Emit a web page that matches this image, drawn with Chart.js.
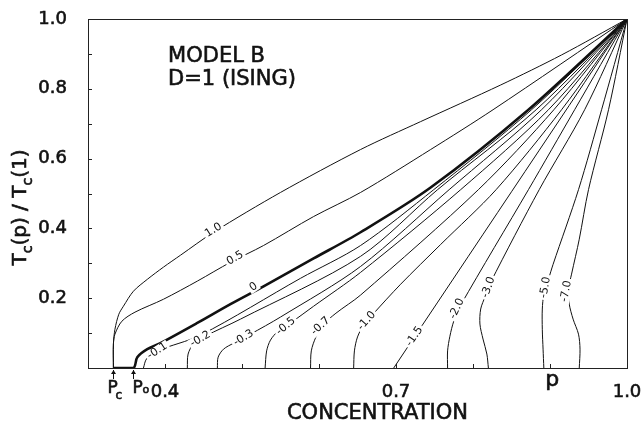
<!DOCTYPE html>
<html>
<head>
<meta charset="utf-8">
<script src="https://cdn.jsdelivr.net/npm/chart.js@4/dist/chart.umd.min.js"></script>
<style>
  html, body { margin: 0; padding: 0; background: #fff; }
  #wrap { width: 641px; height: 424px; }
</style>
</head>
<body>
<div id="wrap"><canvas id="chart" width="641" height="424"></canvas></div>
<script>
// curve names (coupling value written on each curve)
const curveNames = ['1.0', '0.5', '0', '-0.1', '-0.2', '-0.3', '-0.5', '-0.7', '-1.0', '-1.5', '-2.0', '-3.0', '-5.0', '-7.0'];

// concentration p  /  Tc(p)/Tc(1)  for every curve
const p_10  = [0.333, 0.333, 0.335, 0.340, 0.346, 0.359, 0.377, 0.398, 0.420, 0.463, 0.550, 0.654, 0.732, 0.836, 0.915, 1.0];
const t_10  = [0, 0.069, 0.111, 0.154, 0.177, 0.220, 0.254, 0.289, 0.323, 0.389, 0.503, 0.626, 0.706, 0.811, 0.897, 1.0];
const p_05  = [0.333, 0.333, 0.335, 0.344, 0.361, 0.398, 0.442, 0.485, 0.528, 0.593, 0.654, 0.745, 0.826, 1.0];
const t_05  = [0, 0.069, 0.097, 0.134, 0.160, 0.197, 0.249, 0.303, 0.351, 0.434, 0.503, 0.626, 0.740, 1.0];
const p_0   = [0.333, 0.359, 0.364, 0.377, 0.394, 0.442, 0.485, 0.528, 0.593, 0.654, 0.745, 0.872, 1.0];
const t_0   = [0, 0, 0.031, 0.054, 0.071, 0.129, 0.183, 0.234, 0.314, 0.389, 0.517, 0.740, 1.0];
const p_m01 = [0.372, 0.376, 0.390, 0.446, 0.576, 0.654, 0.749, 0.876, 1.0];
const t_m01 = [0, 0.026, 0.049, 0.094, 0.257, 0.351, 0.511, 0.740, 1.0];
const p_m02 = [0.429, 0.430, 0.437, 0.452, 0.498, 0.654, 0.754, 0.882, 1.0];
const t_m02 = [0, 0.040, 0.069, 0.091, 0.140, 0.320, 0.511, 0.740, 1.0];
const p_m03 = [0.468, 0.469, 0.476, 0.489, 0.511, 0.550, 0.654, 0.769, 0.889, 1.0];
const t_m03 = [0, 0.031, 0.054, 0.071, 0.097, 0.146, 0.291, 0.511, 0.740, 1.0];
const p_m05 = [0.530, 0.532, 0.537, 0.547, 0.563, 0.593, 0.654, 0.784, 0.898, 1.0];
const t_m05 = [0, 0.049, 0.080, 0.106, 0.129, 0.177, 0.274, 0.511, 0.740, 1.0];
const p_m07 = [0.589, 0.590, 0.596, 0.605, 0.622, 0.654, 0.807, 0.905, 1.0];
const t_m07 = [0, 0.049, 0.089, 0.123, 0.157, 0.209, 0.511, 0.740, 1.0];
const p_m10 = [0.645, 0.646, 0.650, 0.658, 0.670, 0.706, 0.758, 0.830, 0.915, 1.0];
const t_m10 = [0, 0.049, 0.089, 0.123, 0.154, 0.240, 0.354, 0.511, 0.740, 1.0];
const p_m15 = [0.697, 0.850, 1.0];
const t_m15 = [0, 0.505, 1.0];
const p_m20 = [0.767, 0.767, 0.770, 0.775, 0.784, 0.872, 0.932, 1.0];
const t_m20 = [0, 0.049, 0.091, 0.134, 0.180, 0.511, 0.740, 1.0];
const p_m30 = [0.820, 0.818, 0.813, 0.809, 0.810, 0.816, 0.823, 0.886, 0.945, 1.0];
const t_m30 = [0, 0.040, 0.083, 0.126, 0.169, 0.206, 0.246, 0.511, 0.740, 1.0];
const p_m50 = [0.892, 0.891, 0.890, 0.890, 0.892, 0.898, 0.904, 0.937, 0.967, 1.0];
const t_m50 = [0, 0.054, 0.111, 0.169, 0.211, 0.254, 0.297, 0.511, 0.740, 1.0];
const p_m70 = [0.938, 0.939, 0.937, 0.930, 0.925, 0.924, 0.928, 0.938, 0.950, 0.976, 1.0];
const t_m70 = [0, 0.054, 0.097, 0.140, 0.183, 0.226, 0.269, 0.369, 0.511, 0.740, 1.0];

const curveP = [p_10, p_05, p_0, p_m01, p_m02, p_m03, p_m05, p_m07, p_m10, p_m15, p_m20, p_m30, p_m50, p_m70];
const curveT = [t_10, t_05, t_0, t_m01, t_m02, t_m03, t_m05, t_m07, t_m10, t_m15, t_m20, t_m30, t_m50, t_m70];

// axis ticks
const xTickLabels = [0.4, 0.7, 1.0];
const yTickLabels = [0.2, 0.4, 0.6, 0.8, 1.0];
const xMinorTicks = [0.4, 0.5, 0.6, 0.7, 0.8, 0.9];
const yMinorTicks = [0.1, 0.2, 0.3, 0.4, 0.5, 0.6, 0.7, 0.8, 0.9];
const pC = 0.333, p0 = 0.359;

// where the curve names sit: [p, t, angle in degrees]
const nameSpots = [
  [0.463, 0.395, -32], [0.491, 0.315, -30], [0.515, 0.232, -34],
  [0.390, 0.049, -33], [0.446, 0.083, -30], [0.502, 0.086, -32],
  [0.557, 0.120, -40], [0.602, 0.120, -43], [0.662, 0.135, -48],
  [0.724, 0.090, -56], [0.779, 0.170, -65], [0.820, 0.231, -70],
  [0.894, 0.231, -80], [0.921, 0.220, -80]
];

const FONT = '"DejaVu Sans"';
Chart.defaults.font.family = FONT;
Chart.defaults.color = '#111';

function heavyText(ctx, txt, x, y, size, align) {
  ctx.font = size + 'px ' + FONT;
  ctx.textAlign = align || 'left';
  ctx.lineWidth = 0.6;
  ctx.strokeText(txt, x, y);
  ctx.fillText(txt, x, y);
}

function upArrow(ctx, x, yTip) {
  ctx.beginPath();
  ctx.moveTo(x, yTip + 9);
  ctx.lineTo(x, yTip);
  ctx.stroke();
  ctx.beginPath();
  ctx.moveTo(x, yTip);
  ctx.lineTo(x - 2.5, yTip + 4);
  ctx.lineTo(x + 2.5, yTip + 4);
  ctx.closePath();
  ctx.fill();
}

const overlay = {
  id: 'overlay',
  afterDatasetsDraw(chart) {
    const { ctx, chartArea: a, scales: { x, y } } = chart;
    ctx.save();
    ctx.strokeStyle = '#222';
    ctx.fillStyle = '#111';
    ctx.lineWidth = 1;
    ctx.strokeRect(a.left + 0.5, a.top + 0.5, a.right - a.left, a.bottom - a.top);

    // small inward ticks
    ctx.beginPath();
    yMinorTicks.forEach(v => {
      const py = Math.round(y.getPixelForValue(v)) + 0.5;
      ctx.moveTo(a.left, py); ctx.lineTo(a.left + 4, py);
    });
    xMinorTicks.forEach(v => {
      const px = Math.round(x.getPixelForValue(v)) + 0.5;
      ctx.moveTo(px, a.bottom); ctx.lineTo(px, a.bottom - 4);
    });
    ctx.stroke();

    // curve names
    ctx.font = '11px ' + FONT;
    ctx.textAlign = 'center';
    ctx.textBaseline = 'middle';
    curveNames.forEach((txt, i) => {
      const s = nameSpots[i];
      ctx.save();
      ctx.translate(x.getPixelForValue(s[0]), y.getPixelForValue(s[1]));
      ctx.rotate(s[2] * Math.PI / 180);
      const w = ctx.measureText(txt).width;
      ctx.fillStyle = '#fff';
      ctx.fillRect(-w / 2 - 2, -5, w + 4, 10);
      ctx.fillStyle = '#111';
      ctx.fillText(txt, 0, 0);
      ctx.restore();
    });

    ctx.textBaseline = 'alphabetic';
    ctx.strokeStyle = '#111';

    // model note
    const nx = x.getPixelForValue(0.404);
    heavyText(ctx, 'MODEL B', nx, y.getPixelForValue(0.877), 21);
    heavyText(ctx, 'D=1 (ISING)', nx, y.getPixelForValue(0.811), 21);

    // p_c and p_0 markers
    ctx.lineWidth = 1;
    const xc = Math.round(x.getPixelForValue(pC)) + 0.5;
    const x0 = Math.round(x.getPixelForValue(p0)) + 0.5;
    upArrow(ctx, xc, a.bottom + 2);
    upArrow(ctx, x0, a.bottom + 2);
    heavyText(ctx, 'P', xc - 6, a.bottom + 25, 17);
    heavyText(ctx, 'c', xc + 2, a.bottom + 31, 12);
    heavyText(ctx, 'P', x0 - 1, a.bottom + 25, 17);
    heavyText(ctx, 'o', x0 + 9, a.bottom + 25, 11);

    // x axis titles
    heavyText(ctx, 'p', x.getPixelForValue(0.903), a.bottom + 18, 22, 'center');
    heavyText(ctx, 'CONCENTRATION', (a.left + a.right) / 2 + 20, a.bottom + 51, 21, 'center');

    // y axis title with subscripts, rotated
    ctx.save();
    ctx.translate(26, (a.top + a.bottom) / 2 + 14);
    ctx.rotate(-Math.PI / 2);
    const parts = [['T', 20, 0], ['c', 14, 6], ['(p) / T', 20, 0], ['c', 14, 6], ['(1)', 20, 0]];
    let total = 0;
    parts.forEach(p => { ctx.font = p[1] + 'px ' + FONT; total += ctx.measureText(p[0]).width; });
    let cx = -total / 2;
    parts.forEach(p => {
      heavyText(ctx, p[0], cx, p[2], p[1]);
      ctx.font = p[1] + 'px ' + FONT;
      cx += ctx.measureText(p[0]).width;
    });
    ctx.restore();

    ctx.restore();
  }
};

const datasets = curveNames.map((name, i) => ({
  label: name,
  data: curveP[i].map((p, k) => ({ x: p, y: curveT[i][k] })),
  showLine: true,
  borderColor: '#111',
  borderWidth: name === '0' ? 2.6 : 1,
  pointRadius: 0,
  tension: 0.3,
  fill: false
}));

new Chart(document.getElementById('chart').getContext('2d'), {
  type: 'scatter',
  data: { datasets },
  options: {
    responsive: false,
    animation: false,
    events: [],
    layout: { padding: { left: 0, right: 14, top: 19, bottom: 0 } },
    plugins: { legend: { display: false }, tooltip: { enabled: false } },
    scales: {
      x: {
        type: 'linear', min: 0.3, max: 1.0,
        grid: { display: false }, border: { display: false },
        afterBuildTicks: s => { s.ticks = xTickLabels.map(v => ({ value: v })); },
        afterFit: s => { s.height = 56; s.paddingLeft = 0; s.paddingRight = 0; },
        ticks: {
          autoSkip: false, maxRotation: 0, padding: 6,
          font: { size: 18 }, color: '#111',
          textStrokeColor: '#111', textStrokeWidth: 0.6,
          callback: v => v.toFixed(1)
        }
      },
      y: {
        type: 'linear', min: 0, max: 1.0,
        grid: { display: false }, border: { display: false },
        afterBuildTicks: s => { s.ticks = yTickLabels.map(v => ({ value: v })); },
        afterFit: s => { s.width = 88; s.paddingTop = 0; s.paddingBottom = 0; },
        ticks: {
          padding: 13,
          font: { size: 18 }, color: '#111',
          textStrokeColor: '#111', textStrokeWidth: 0.6,
          callback: v => v.toFixed(1)
        }
      }
    }
  },
  plugins: [overlay]
});
</script>
</body>
</html>
